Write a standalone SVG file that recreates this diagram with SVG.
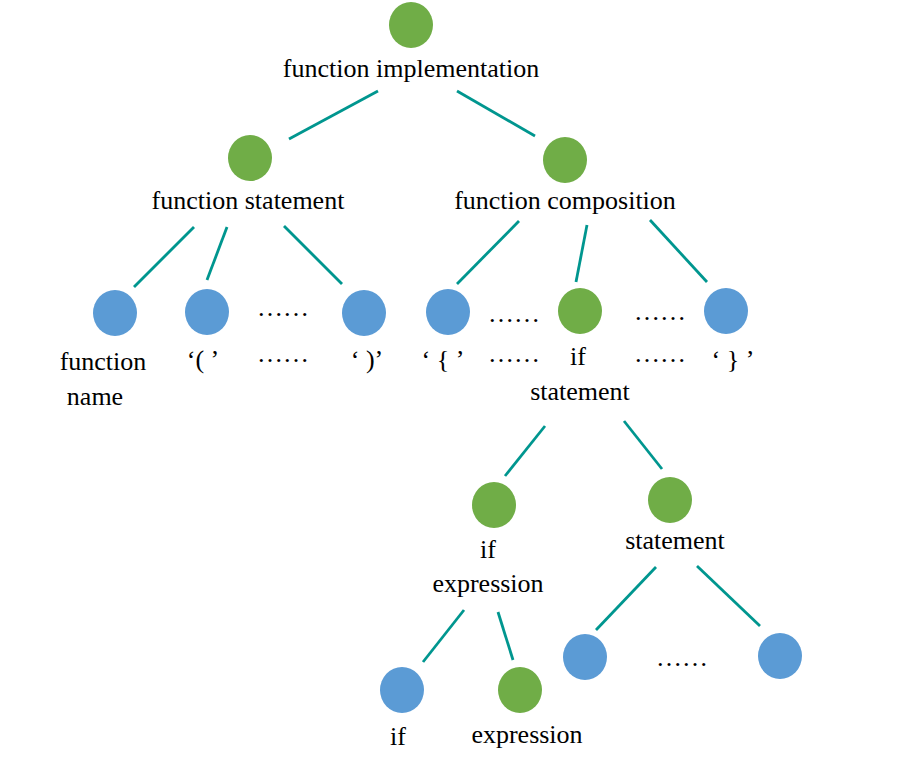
<svg xmlns="http://www.w3.org/2000/svg" width="920" height="768" viewBox="0 0 920 768">
<style>
.g{fill:#70ad47}.b{fill:#5b9bd5}
text{font-family:"Liberation Serif","DejaVu Serif",serif;font-size:26px;fill:#000;text-anchor:middle}
line{stroke:#00968f;stroke-width:2.8}
</style>
<rect width="920" height="768" fill="#fff"/>
<g id="connectors">
<line x1="378" y1="91" x2="289" y2="139"/><line x1="457" y1="91" x2="535" y2="136"/>
<line x1="194" y1="227" x2="134" y2="287"/><line x1="227" y1="227" x2="207" y2="280"/>
<line x1="284" y1="226" x2="342" y2="284"/><line x1="519" y1="221" x2="457" y2="284"/>
<line x1="587" y1="225" x2="576" y2="282"/><line x1="650" y1="220" x2="707" y2="282"/>
<line x1="545" y1="426" x2="505" y2="476"/><line x1="624" y1="421" x2="662" y2="469"/>
<line x1="464" y1="610" x2="423" y2="662"/><line x1="498" y1="612" x2="513" y2="660"/>
<line x1="656" y1="567" x2="596" y2="630"/><line x1="697" y1="566" x2="760" y2="626"/>
</g>
<g id="root"><ellipse class="g" cx="411" cy="25" rx="22" ry="23"/><text x="411" y="77">function implementation</text></g>
<g id="fs"><ellipse class="g" cx="250" cy="158" rx="22" ry="23"/><text x="248" y="209">function statement</text></g>
<g id="fc"><ellipse class="g" cx="565" cy="160" rx="22" ry="23"/><text x="565" y="209">function composition</text></g>
<g id="fname"><ellipse class="b" cx="115" cy="313" rx="22" ry="23"/><text x="103" y="370">function</text><text x="95" y="405">name</text></g>
<g id="lp"><ellipse class="b" cx="207" cy="312" rx="22" ry="23"/><text x="203" y="368">‘( ’</text></g>
<g id="d1"><text x="283" y="316">……</text><text x="283" y="362">……</text></g>
<g id="rp"><ellipse class="b" cx="364" cy="313" rx="22" ry="23"/><text x="367" y="368">‘ )’</text></g>
<g id="lb"><ellipse class="b" cx="448" cy="312" rx="22" ry="23"/><text x="443" y="368">‘ { ’</text></g>
<g id="d2"><text x="514" y="322">……</text><text x="514" y="362">……</text></g>
<g id="ifs"><ellipse class="g" cx="580" cy="311" rx="22" ry="23"/><text x="578" y="365">if</text><text x="580" y="400">statement</text></g>
<g id="d3"><text x="660" y="320">……</text><text x="660" y="362">……</text></g>
<g id="rb"><ellipse class="b" cx="726" cy="311" rx="22" ry="23"/><text x="733" y="368">‘ } ’</text></g>
<g id="ife"><ellipse class="g" cx="494" cy="505" rx="22" ry="23"/><text x="488" y="558">if</text><text x="488" y="592">expression</text></g>
<g id="st"><ellipse class="g" cx="670" cy="500" rx="22" ry="23"/><text x="675" y="549">statement</text></g>
<g id="ifl"><ellipse class="b" cx="402" cy="690" rx="22" ry="23"/><text x="398" y="745">if</text></g>
<g id="exl"><ellipse class="g" cx="520" cy="690" rx="22" ry="23"/><text x="527" y="743">expression</text></g>
<g id="s1"><ellipse class="b" cx="585" cy="657" rx="22" ry="23"/></g>
<g id="d4"><text x="682" y="666">……</text></g>
<g id="s2"><ellipse class="b" cx="780" cy="656" rx="22" ry="23"/></g>
</svg>
